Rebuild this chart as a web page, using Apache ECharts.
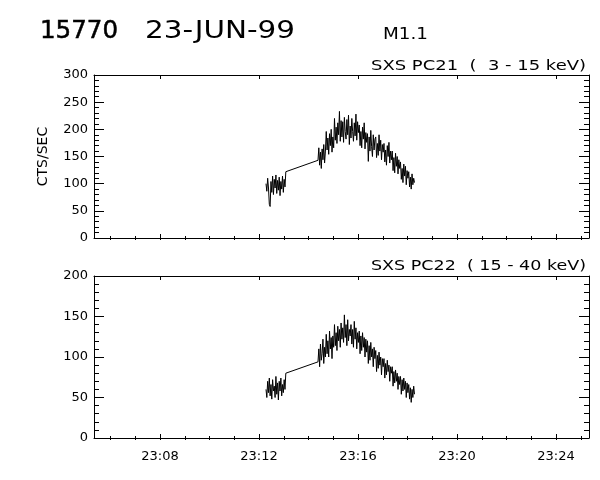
<!DOCTYPE html>
<html>
<head>
<meta charset="utf-8">
<script src="https://cdn.jsdelivr.net/npm/echarts@6/dist/echarts.min.js"></script>
<style>
  html, body { margin: 0; padding: 0; background: #fff; }
  #chart { width: 600px; height: 480px; }
</style>
</head>
<body>
<div id="chart"></div>
<script>
// time in seconds after 23:00:00, samples every 2 s
var sampleStep = 2;
var seg1Start = 737;   // 23:12:17
var seg2Start = 863;   // 23:14:23

// SXS PC21 (3 - 15 keV)
var pc21Seg1 = [100, 86, 110, 92, 62, 58, 104, 84, 114, 80, 108, 92, 116, 82, 106, 88, 112, 78,
  104, 90, 114, 84, 108, 94, 122];
var pc21Seg2 = [
  143, 166, 134, 158, 128, 164, 144, 172, 138, 160,
  196, 162, 184, 154, 192, 170, 200, 158, 186, 166,
  220, 180, 204, 174, 212, 190, 233, 178, 216, 186,
  214, 176, 222, 196, 182, 218, 190, 226, 172, 206,
  184, 220, 196, 178, 212, 188, 228, 180, 214, 194,
  208, 170, 196, 166, 204, 182, 212, 164, 194, 176,
  192, 141, 186, 160, 198, 168, 150, 190, 162, 182,
  186, 148, 174, 152, 190, 160, 180, 144, 172, 158,
  174, 140, 162, 134, 170, 150, 176, 138, 160, 144,
  160, 124, 148, 120, 156, 132, 150, 118, 144, 128,
  140, 108, 128, 102, 136, 114, 132, 98, 124, 110,
  122, 94, 112, 90, 118, 98, 110, 102];

// SXS PC22 (15 - 40 keV)
var pc22Seg1 = [60, 50, 70, 56, 74, 52, 66, 48, 72, 58, 64, 50, 76, 54, 68, 47, 70, 58, 74, 52,
  66, 56, 72, 60, 80];
var pc22Seg2 = [
  94, 110, 88, 116, 96, 104, 122, 92, 112, 100,
  128, 104, 120, 100, 132, 110, 124, 98, 126, 112,
  140, 114, 130, 108, 138, 120, 134, 112, 142, 122,
  136, 118, 152, 124, 140, 114, 146, 120, 134, 126,
  140, 116, 134, 112, 144, 122, 136, 110, 130, 118,
  132, 104, 126, 108, 130, 112, 124, 100, 122, 106,
  120, 92, 114, 96, 118, 100, 110, 88, 112, 98,
  108, 82, 102, 86, 106, 90, 100, 78, 98, 88,
  98, 74, 92, 78, 96, 82, 90, 70, 88, 80,
  88, 64, 82, 68, 84, 70, 80, 60, 76, 66,
  76, 54, 72, 58, 74, 60, 70, 50, 68, 56,
  66, 48, 62, 44, 60, 50, 64, 54];

var xMin = 320, xMax = 1520;   // 23:05:20 - 23:25:20
var majorTicks = [480, 720, 960, 1200, 1440];
var minorTicks = [360, 420, 480, 540, 600, 660, 720, 780, 840, 900, 960, 1020, 1080, 1140,
  1200, 1260, 1320, 1380, 1440, 1500];

var font = 'DejaVu Sans';

function toPoints(start, vals) {
  return vals.map(function (v, i) { return [start + i * sampleStep, v]; });
}
function timeLabel(sec) {
  var m = Math.floor(sec / 60);
  return '23:' + (m < 10 ? '0' + m : m);
}

// widen text to the look of the plotting font
var measureCtx = document.createElement('canvas').getContext('2d');
function headText(text, size, x, y, width, align, heavy) {
  measureCtx.font = size + 'px "' + font + '"';
  var w = measureCtx.measureText(text).width;
  var style = {
    text: text, fill: '#000', fontFamily: font, fontSize: size,
    textAlign: align, align: align, textVerticalAlign: 'top', verticalAlign: 'top'
  };
  if (heavy) { style.stroke = '#000'; style.lineWidth = 0.5; }
  return { type: 'text', x: x, y: y, scaleX: width / w, silent: true, style: style };
}

var grids = [
  { left: 94, right: 11, top: 75, height: 163 },
  { left: 94, right: 11, top: 276, height: 162 }
];
var yMaxes = [300, 200];

var xAxes = [], yAxes = [];
grids.forEach(function (g, gi) {
  ['bottom', 'top'].forEach(function (pos) {
    xAxes.push({
      gridIndex: gi, type: 'value', min: xMin, max: xMax, position: pos,
      axisLine: { show: true, onZero: false, lineStyle: { color: '#000', width: 1 } },
      axisTick: { show: true, inside: true, length: 4, customValues: majorTicks, lineStyle: { color: '#000' } },
      axisLabel: {
        show: gi === 1 && pos === 'bottom', customValues: majorTicks, formatter: timeLabel,
        color: '#000', fontFamily: font, fontSize: 13, margin: 12
      },
      splitLine: { show: false }
    });
    xAxes.push({
      gridIndex: gi, type: 'value', min: xMin, max: xMax, position: pos,
      axisLine: { show: false },
      axisTick: { show: true, inside: true, length: 2, customValues: minorTicks, lineStyle: { color: '#000' } },
      axisLabel: { show: false },
      splitLine: { show: false }
    });
  });
  ['left', 'right'].forEach(function (pos) {
    yAxes.push({
      gridIndex: gi, type: 'value', min: 0, max: yMaxes[gi], interval: 50, position: pos,
      name: gi === 0 && pos === 'left' ? 'CTS/SEC' : '',
      nameLocation: 'middle', nameRotate: 90, nameGap: 44,
      nameTextStyle: { color: '#000', fontFamily: font, fontSize: 14 },
      axisLine: { show: true, onZero: false, lineStyle: { color: '#000', width: 1 } },
      axisTick: { show: true, inside: true, length: 10, lineStyle: { color: '#000' } },
      minorTick: { show: true, splitNumber: 5, length: 5, lineStyle: { color: '#000' } },
      axisLabel: { show: pos === 'left', color: '#000', fontFamily: font, fontSize: 13, margin: 6 },
      splitLine: { show: false },
      minorSplitLine: { show: false }
    });
  });
});

var lineStyle = { color: '#000', width: 1 };
var series = [
  {
    name: 'SXS PC21', type: 'line', xAxisIndex: 0, yAxisIndex: 0, showSymbol: false,
    lineStyle: lineStyle, animation: false,
    data: toPoints(seg1Start, pc21Seg1).concat(toPoints(seg2Start, pc21Seg2))
  },
  {
    name: 'SXS PC22', type: 'line', xAxisIndex: 4, yAxisIndex: 2, showSymbol: false,
    lineStyle: lineStyle, animation: false,
    data: toPoints(seg1Start, pc22Seg1).concat(toPoints(seg2Start, pc22Seg2))
  }
];

var chart = echarts.init(document.getElementById('chart'));
chart.setOption({
  backgroundColor: '#fff',
  animation: false,
  graphic: [
    headText('15770', 24, 40, 20, 78, 'left', true),
    headText('23-JUN-99', 24, 145, 20, 150, 'left', false),
    headText('M1.1', 16, 383, 27, 45, 'left', false),
    headText('SXS PC21  (  3 - 15 keV)', 14, 586, 59, 215, 'right', false),
    headText('SXS PC22  ( 15 - 40 keV)', 14, 586, 259, 215, 'right', false)
  ],
  grid: grids,
  xAxis: xAxes,
  yAxis: yAxes,
  series: series
});
</script>
</body>
</html>
